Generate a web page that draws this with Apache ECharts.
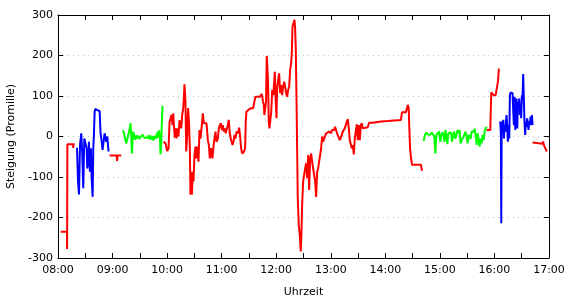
<!DOCTYPE html>
<html>
<head>
<meta charset="utf-8">
<script src="https://cdn.jsdelivr.net/npm/echarts@6/dist/echarts.min.js"></script>
<style>html,body{margin:0;padding:0;background:#fff}#c{width:570px;height:300px}</style>
</head>
<body>
<div id="c"></div>
<script>
// time in minutes since midnight, value in Promille
var red1 = [[483,-235],[489.9,-235],[490,-278],[490.3,-19],[496.5,-19],[496.7,-28],[497,-19],[498.3,-19]];
var blue1 = [[500.9,-28],[502,-111],[503.1,-143],[504.2,-21],[505.6,8],[506.7,-46],[507.8,-128],[508.9,-5],[510,-9],[511.5,-29],[512.2,-79],[513.3,-62],[514,-13],[515.1,-87],[516.2,-29],[517,-103],[518.1,-149],[518.8,-29],[519.5,4],[520.3,61],[521,68],[523.2,65],[525.8,63],[526.8,8],[527.9,-9],[529,-33],[530.1,-13],[531.2,8],[532.3,4],[533.1,-13],[534.2,0],[535.6,-37]];
var red2 = [[536.7,-47],[544.5,-47],[545,-60],[545.5,-47],[549.5,-47]];
var green1 = [[551.4,16],[553,5],[555,-17],[556.9,0],[558.5,15],[559.8,33],[560.5,5],[561.3,-42],[562,-10],[562.8,12],[564,0],[565,-8],[566,3],[567,-5],[568,2],[569.5,-6],[571,0],[572,-3],[573.5,4],[575,-4],[576,0],[577.5,-3],[579,2],[580,-6],[581,3],[582.5,-8],[584,1],[585,-10],[586.5,2],[588,-5],[589,10],[590,-3],[591,15],[592,0],[592.8,-44],[593.5,-20],[594,20],[595,76]];
var red3 = [[596.1,-13],[598.3,-17],[600.1,-36],[601.6,-29],[602.7,37],[603.8,45],[604.8,53],[605.9,28],[606.7,57],[607.8,16],[608.5,-3],[609.2,20],[610.3,-5],[611.4,20],[612.5,0],[613.6,40],[614.7,28],[615.5,20],[616.6,53],[617.7,70],[618.4,94],[619.1,129],[620.2,86],[621,-37],[622.1,4],[623.1,70],[624.2,28],[625,-29],[625.7,-144],[626.4,-87],[627.2,-144],[628.3,-87],[629,-111],[630.1,-46],[631.2,-25],[632.3,-54],[633.4,-25],[634.5,-62],[635.6,16],
[636.7,-5],[638.2,28],[639.3,57],[640.4,33],[641.9,37],[643.3,33],[644.8,-9],[645.9,-21],[647,-54],[648.4,-29],[649.9,-54],[651,-25],[652.1,-5],[653.2,12],[654.3,-13],[655.8,-5],[656.9,20],[658,28],[659.1,33],[660.2,16],[661.3,28],[662.4,12],[663.4,20],[664.5,8],[665.6,4],[666.7,28],[667.8,41],[668.9,8],[670,-5],[671.1,-9],[671.9,-21],[673,-13],[674.1,4],[675.2,-5],[676.3,12],[677.4,16],[678.5,8],[679.2,22],[680.3,0],[681.4,-29],[682.5,-42],[683.6,-46],[684.7,-37],[685.8,-29],[686.5,37],[687.2,61],[688.7,61],[690.2,67],[692.4,70],[694.6,70],[696,70],[697.1,98],[699.7,98],[701.9,98],[702.6,102],[704.1,105],[705.5,86],[706.3,78],[707,53],[708.1,49],[708.8,86],[709.6,199],[710.3,198],[711,135],[711.8,37],[712.5,20],
[713.4,37],[714.5,61],[715.6,115],[716.7,102],[717.4,123],[718.5,160],[719.2,98],[720.3,45],[721,119],[722.1,140],[723.2,156],[724.3,107],[725.4,127],[726.5,102],[727.6,123],[728.7,135],[729.8,123],[730.9,107],[732,98],[733.1,115],[734.2,123],[735.3,164],[736.4,181],[737.2,209],[737.9,271],[739,275],[740.1,288],[740.8,267],[741.5,218],[742.3,94],[743,-29],[743.7,-153],[744.8,-218],[745.9,-243],[747,-284],[747.8,-235],[748.5,-169],[749.6,-111],[750.7,-95],[751.8,-79],[752.9,-66],[754,-103],[755.1,-46],[756.2,-132],[757.3,-54],[758.4,-42],[759.5,-62],[760.6,-79],[761.7,-95],[762.8,-111],[763.9,-149],[765,-87],[766.1,-79],[767.2,-62],[768.3,-62],[769.4,-29],[770.5,0],[771.6,-13],[772.7,-5],[773.8,-9],[774.9,8],[775.9,4],[777,12],[778.1,12],[779.2,16],[780.3,8],[781.4,16],[782.5,20],[783.6,16],[784.7,24],[785.8,16],[786.9,8],
[788.8,4],[789.9,-9],[791,-13],[792.1,4],[793.2,12],[794.3,16],[795.4,20],[796.5,28],[797.6,37],[798.7,43],[799.8,20],[800.9,-9],[802,-13],[803.1,-29],[804.2,-21],[805.3,-44],[806.4,-5],[807.5,12],[808.6,30],[809.7,-9],[810.8,28],[811.9,-9],[813,28],[814.1,33],[815.2,20],[816.3,23],[820.6,23],[822.1,34],[826.1,34],[835.3,37],[837.1,38],[842.6,38],[844.4,41],[857.2,41],[858.3,60],[862.7,60],[863.8,61],[864.6,78],[865.7,70],[866.4,20],[867.2,-29],[868.3,-54],[869.4,-70],[879.2,-70],[880.3,-85]];
var green2 = [[882.2,-11],[883.6,4],[885.1,10],[886.6,5],[888,8],[889.5,4],[891,10],[892.4,5],[893.9,0],[895,-42],[896.1,4],[897.5,8],[899,12],[900.5,-13],[901.6,4],[902.7,10],[903.8,4],[904.9,-13],[906,16],[907.1,0],[908.2,-19],[909.3,8],[910.7,4],[912.2,10],[913.3,-13],[914.7,4],[915.8,12],[916.9,-5],[918.4,4],[919.5,16],[920.6,8],[921.7,16],[922.8,-17],[923.9,-9],[925,-5],[926.1,0],[927.2,4],[928.3,12],[929.4,0],[930.5,-17],[931.6,4],[932.7,0],[933.8,-6],[934.9,12],[936,16],[937.1,12],[938.2,19],[939.3,4],[940.4,-21],[941.5,8],[942.6,-9],[943.7,-25],[944.8,-5],[945.9,-17],[947,4],[948.1,-9],[949.2,12],[950.3,20],[951.4,24]];
var red4 = [[951.4,16],[955.4,16],[956.1,20],[956.5,109],[957.6,111],[959.1,102],[961.3,102],[962.7,98],[963.8,135],[964.9,168]];
var blue2 = [[966.4,37],[967.1,4],[967.5,-214],[967.9,4],[968.2,37],[969,20],[969.7,41],[970.4,-5],[971.1,28],[971.9,12],[972.6,37],[973.3,53],[974.1,20],[974.8,-13],[975.5,28],[976.3,-5],[977,102],[977.7,109],[978.8,111],[979.9,107],[980.7,61],[981.4,28],[982.1,98],[982.9,16],[983.6,78],[984.3,94],[985.1,20],[985.8,86],[986.5,65],[987.3,94],[988,53],[988.7,82],[989.4,45],[990.2,102],[990.9,94],[991.6,154],[992.4,86],[993.1,33],[993.8,4],[994.6,37],[995.3,24],[996,45],[996.8,33],[997.5,16],[998.2,37],[999,28],[999.7,49],[1000.4,28],[1001.2,53],[1001.9,28]];
var red5 = [[1001.9,-15],[1013,-18],[1013.5,-12],[1014.5,-22],[1017.6,-37]];

var xMin = 480, xMax = 1020, yMin = -300, yMax = 300;
var segments = [
  {d: red1, c: '#ff0000'}, {d: blue1, c: '#0000ff'}, {d: red2, c: '#ff0000'},
  {d: green1, c: '#00ff00'}, {d: red3, c: '#ff0000'}, {d: green2, c: '#00ff00'},
  {d: red4, c: '#ff0000'}, {d: blue2, c: '#0000ff'}, {d: red5, c: '#ff0000'}
];

function fmtTime(v) {
  if (v % 60 !== 0) return '';
  var h = Math.floor(v / 60);
  return (h < 10 ? '0' : '') + h + ':00';
}
var font = 'DejaVu Sans';
var chart = echarts.init(document.getElementById('c'), null, {renderer: 'canvas'});
chart.setOption({
  animation: false,
  backgroundColor: '#fff',
  grid: {left: 58, right: 21, top: 15, bottom: 42, containLabel: false, outerBoundsMode: 'none'},
  xAxis: [{
    type: 'value', min: xMin, max: xMax, interval: 30, position: 'bottom',
    name: 'Uhrzeit', nameLocation: 'middle', nameGap: 29,
    nameTextStyle: {fontFamily: font, fontSize: 11, color: '#000'},
    axisLine: {show: true, onZero: false, lineStyle: {color: '#000', width: 1}},
    axisTick: {show: true, inside: true, length: 5, lineStyle: {color: '#000'}},
    axisLabel: {formatter: fmtTime, fontFamily: font, fontSize: 11, color: '#000', margin: 7},
    splitLine: {show: false}
  }, {
    type: 'value', min: xMin, max: xMax, interval: 30, position: 'top',
    axisLine: {show: true, onZero: false, lineStyle: {color: '#000', width: 1}},
    axisTick: {show: true, inside: true, length: 5, lineStyle: {color: '#000'}},
    axisLabel: {show: false}, splitLine: {show: false}
  }],
  yAxis: [{
    type: 'value', min: yMin, max: yMax, interval: 100, position: 'left',
    name: 'Steigung (Promille)', nameLocation: 'middle', nameGap: 39,
    nameTextStyle: {fontFamily: font, fontSize: 11, color: '#000'},
    axisLine: {show: true, onZero: false, lineStyle: {color: '#000', width: 1}},
    axisTick: {show: true, inside: true, length: 5, lineStyle: {color: '#000'}},
    axisLabel: {fontFamily: font, fontSize: 11, color: '#000', margin: 5},
    splitLine: {show: true, lineStyle: {color: '#c0c0c0', type: [1, 4], width: 1}}
  }, {
    type: 'value', min: yMin, max: yMax, interval: 100, position: 'right',
    axisLine: {show: true, onZero: false, lineStyle: {color: '#000', width: 1}},
    axisTick: {show: true, inside: true, length: 5, lineStyle: {color: '#000'}},
    axisLabel: {show: false}, splitLine: {show: false}
  }],
  series: segments.map(function (s) {
    return {
      type: 'line', data: s.d, xAxisIndex: 0, yAxisIndex: 0,
      showSymbol: false, symbol: 'none', silent: true,
      lineStyle: {color: s.c, width: 2}, itemStyle: {color: s.c}
    };
  })
});
</script>
</body>
</html>
